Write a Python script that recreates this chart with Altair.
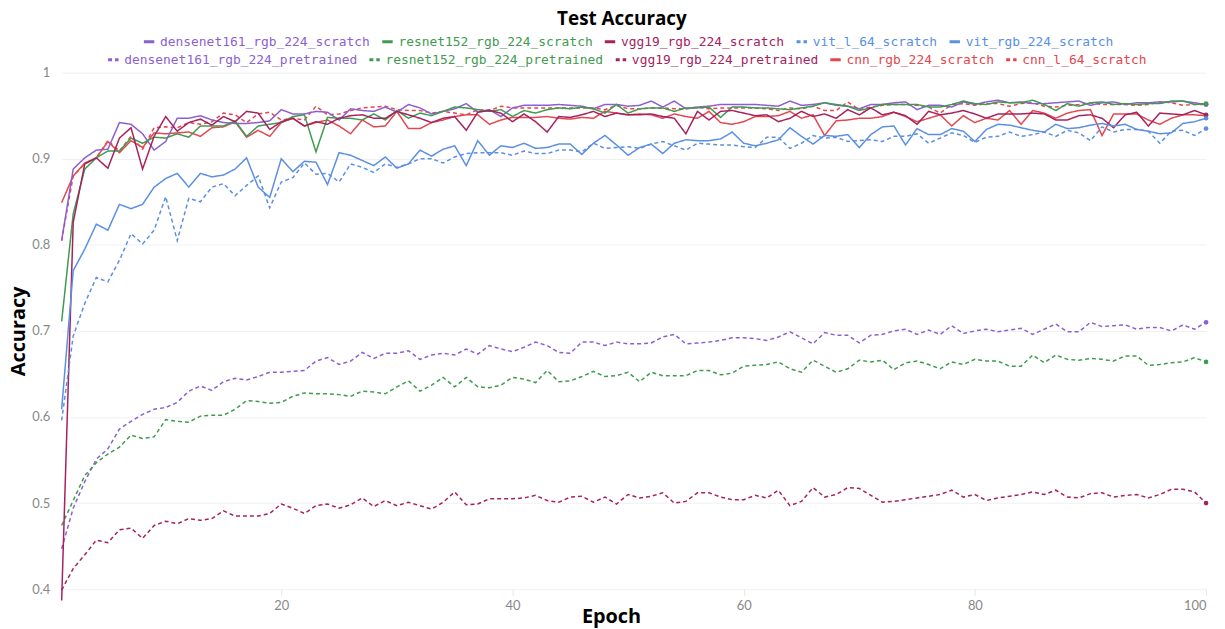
import altair as alt
import pandas as pd

epochs = list(range(1, 101))

row1_series = ["densenet161_rgb_224_scratch", "resnet152_rgb_224_scratch", "vgg19_rgb_224_scratch",
               "vit_l_64_scratch", "vit_rgb_224_scratch"]
row2_series = ["densenet161_rgb_224_pretrained", "resnet152_rgb_224_pretrained", "vgg19_rgb_224_pretrained",
               "cnn_rgb_224_scratch", "cnn_l_64_scratch"]

densenet_pt = [
    0.447, 0.494, 0.525, 0.551, 0.563, 0.586, 0.595, 0.603, 0.609, 0.611, 0.617, 0.630, 0.636, 0.631, 0.641, 0.645, 0.643, 0.647,
    0.652, 0.652, 0.653, 0.654, 0.665, 0.669, 0.661, 0.665, 0.675, 0.668, 0.674, 0.674, 0.677, 0.667, 0.672, 0.674, 0.672, 0.679, 0.673, 0.683, 0.679, 0.676, 0.681, 0.687, 0.683, 0.675, 0.674,
    0.687, 0.687, 0.683, 0.687, 0.685, 0.685, 0.686, 0.693, 0.696, 0.685, 0.686, 0.687, 0.689, 0.692, 0.692, 0.691, 0.689, 0.693, 0.699, 0.692, 0.685, 0.698, 0.695, 0.695, 0.686, 0.695, 0.696, 0.700,
    0.702, 0.696, 0.701, 0.696, 0.706, 0.697, 0.700, 0.702, 0.699, 0.701, 0.703, 0.696, 0.702, 0.708, 0.699, 0.699, 0.710, 0.705, 0.706, 0.707, 0.702, 0.704, 0.704, 0.700, 0.707, 0.702, 0.710,
]
resnet_pt = [
    0.474, 0.503, 0.532, 0.547, 0.557, 0.565, 0.579, 0.575, 0.577, 0.597, 0.595, 0.594, 0.601, 0.602, 0.602, 0.609, 0.619, 0.618,
    0.616, 0.617, 0.624, 0.628, 0.627, 0.627, 0.626, 0.624, 0.630, 0.629, 0.627, 0.635, 0.642, 0.630, 0.637, 0.646, 0.635, 0.646, 0.635, 0.634, 0.637, 0.646, 0.644, 0.640, 0.654, 0.641, 0.642,
    0.647, 0.653, 0.647, 0.648, 0.652, 0.641, 0.652, 0.648, 0.648, 0.648, 0.654, 0.654, 0.649, 0.651, 0.659, 0.660, 0.661, 0.664, 0.656, 0.652, 0.666, 0.659, 0.652, 0.656, 0.666, 0.664, 0.666, 0.655,
    0.663, 0.665, 0.661, 0.656, 0.664, 0.661, 0.667, 0.665, 0.665, 0.659, 0.659, 0.672, 0.663, 0.672, 0.667, 0.666, 0.668, 0.667, 0.665, 0.671, 0.671, 0.660, 0.661, 0.663, 0.664, 0.669, 0.664,
]
vgg_pt = [
    0.399, 0.424, 0.440, 0.457, 0.454, 0.469, 0.471, 0.459, 0.474, 0.479, 0.476, 0.482, 0.480, 0.482, 0.491, 0.485, 0.485, 0.485,
    0.488, 0.499, 0.494, 0.488, 0.497, 0.499, 0.494, 0.498, 0.506, 0.496, 0.503, 0.497, 0.501, 0.497, 0.493, 0.501, 0.513, 0.498, 0.499, 0.505, 0.505, 0.505, 0.506, 0.509, 0.503, 0.501, 0.507,
    0.508, 0.501, 0.507, 0.499, 0.510, 0.506, 0.508, 0.512, 0.500, 0.502, 0.512, 0.512, 0.507, 0.504, 0.504, 0.509, 0.506, 0.515, 0.497, 0.502, 0.518, 0.507, 0.510, 0.518, 0.517, 0.509, 0.501, 0.502,
    0.504, 0.506, 0.508, 0.510, 0.515, 0.507, 0.510, 0.503, 0.506, 0.508, 0.510, 0.513, 0.510, 0.515, 0.507, 0.506, 0.511, 0.512, 0.507, 0.509, 0.510, 0.506, 0.510, 0.516, 0.516, 0.513, 0.500,
]
vit_rgb = [
    0.609, 0.770, 0.795, 0.824, 0.817, 0.847, 0.842, 0.847, 0.867, 0.877, 0.883, 0.867, 0.883, 0.879, 0.881, 0.888, 0.901,
    0.867, 0.855, 0.900, 0.885, 0.897, 0.896, 0.870, 0.907, 0.904, 0.898, 0.892, 0.902, 0.889, 0.894, 0.910, 0.903, 0.911, 0.915, 0.892, 0.921, 0.904, 0.915, 0.913, 0.918, 0.912, 0.913, 0.917, 0.917,
    0.905, 0.918, 0.927, 0.916, 0.904, 0.913, 0.917, 0.906, 0.918, 0.922, 0.921, 0.921, 0.923, 0.931, 0.918, 0.915, 0.918, 0.922, 0.936, 0.926, 0.917, 0.927, 0.926, 0.928, 0.913, 0.928, 0.937, 0.938,
    0.916, 0.935, 0.928, 0.928, 0.935, 0.932, 0.920, 0.934, 0.940, 0.939, 0.936, 0.933, 0.931, 0.940, 0.935, 0.936, 0.939, 0.941, 0.938, 0.940, 0.934, 0.932, 0.929, 0.930, 0.941, 0.943, 0.947,
]
vit_l64 = [
    0.596, 0.694, 0.732, 0.762, 0.757, 0.782, 0.813, 0.801, 0.817, 0.856, 0.805, 0.854, 0.850, 0.867, 0.871, 0.857, 0.869, 0.880,
    0.843, 0.873, 0.878, 0.895, 0.882, 0.883, 0.873, 0.894, 0.890, 0.884, 0.894, 0.890, 0.894, 0.900, 0.900, 0.895, 0.902, 0.906, 0.907, 0.907, 0.907, 0.904, 0.909, 0.906, 0.906, 0.910, 0.910,
    0.908, 0.918, 0.912, 0.913, 0.914, 0.912, 0.917, 0.920, 0.915, 0.910, 0.918, 0.917, 0.916, 0.916, 0.914, 0.913, 0.925, 0.925, 0.912, 0.918, 0.927, 0.924, 0.925, 0.920, 0.921, 0.922, 0.920, 0.926,
    0.926, 0.929, 0.918, 0.924, 0.930, 0.927, 0.919, 0.925, 0.926, 0.931, 0.926, 0.928, 0.931, 0.926, 0.933, 0.930, 0.921, 0.937, 0.931, 0.934, 0.934, 0.932, 0.918, 0.932, 0.933, 0.927, 0.935,
]
densenet_sc = [
    0.805, 0.888, 0.901, 0.910, 0.911, 0.942, 0.940, 0.929, 0.910, 0.920, 0.947, 0.947, 0.950, 0.945, 0.942, 0.941, 0.941, 0.942,
    0.944, 0.957, 0.952, 0.952, 0.955, 0.954, 0.945, 0.958, 0.956, 0.955, 0.960, 0.954, 0.963, 0.959, 0.952, 0.955, 0.958, 0.964, 0.954, 0.957, 0.949, 0.959, 0.962, 0.962, 0.962, 0.963, 0.962,
    0.961, 0.958, 0.963, 0.963, 0.961, 0.962, 0.967, 0.960, 0.967, 0.958, 0.960, 0.961, 0.963, 0.963, 0.963, 0.963, 0.962, 0.961, 0.967, 0.962, 0.963, 0.965, 0.962, 0.961, 0.958, 0.963, 0.963, 0.965,
    0.966, 0.957, 0.962, 0.962, 0.960, 0.966, 0.963, 0.966, 0.968, 0.965, 0.966, 0.964, 0.964, 0.965, 0.966, 0.967, 0.962, 0.965, 0.966, 0.963, 0.965, 0.965, 0.966, 0.966, 0.967, 0.965, 0.963,
]
resnet_sc = [
    0.711, 0.836, 0.888, 0.901, 0.909, 0.909, 0.924, 0.918, 0.925, 0.924, 0.929, 0.925, 0.938, 0.938, 0.938, 0.944, 0.926, 0.938,
    0.940, 0.942, 0.949, 0.951, 0.908, 0.948, 0.947, 0.947, 0.945, 0.952, 0.945, 0.956, 0.947, 0.953, 0.950, 0.955, 0.960, 0.959, 0.957, 0.955, 0.957, 0.949, 0.956, 0.953, 0.957, 0.959, 0.958,
    0.960, 0.958, 0.953, 0.963, 0.953, 0.958, 0.959, 0.959, 0.955, 0.959, 0.959, 0.960, 0.948, 0.960, 0.960, 0.959, 0.959, 0.958, 0.957, 0.959, 0.961, 0.965, 0.963, 0.961, 0.956, 0.959, 0.963, 0.963,
    0.963, 0.963, 0.960, 0.960, 0.963, 0.967, 0.964, 0.963, 0.966, 0.965, 0.965, 0.968, 0.963, 0.956, 0.964, 0.961, 0.965, 0.966, 0.963, 0.964, 0.963, 0.964, 0.964, 0.967, 0.967, 0.963, 0.964,
]
vgg_sc = [
    0.387, 0.826, 0.894, 0.901, 0.889, 0.924, 0.936, 0.888, 0.926, 0.949, 0.932, 0.942, 0.946, 0.939, 0.949, 0.943, 0.955, 0.953,
    0.934, 0.943, 0.947, 0.938, 0.943, 0.940, 0.947, 0.950, 0.951, 0.947, 0.947, 0.955, 0.951, 0.947, 0.942, 0.947, 0.949, 0.933, 0.954, 0.956, 0.953, 0.943, 0.952, 0.943, 0.931, 0.949, 0.948,
    0.951, 0.955, 0.949, 0.953, 0.951, 0.951, 0.952, 0.949, 0.947, 0.929, 0.955, 0.945, 0.955, 0.956, 0.953, 0.950, 0.951, 0.943, 0.947, 0.955, 0.949, 0.952, 0.947, 0.957, 0.951, 0.959, 0.951, 0.954,
    0.950, 0.940, 0.955, 0.951, 0.953, 0.956, 0.952, 0.947, 0.952, 0.952, 0.952, 0.953, 0.952, 0.945, 0.945, 0.950, 0.951, 0.947, 0.936, 0.951, 0.954, 0.938, 0.953, 0.952, 0.951, 0.956, 0.951,
]
cnn_rgb = [
    0.849, 0.880, 0.895, 0.901, 0.920, 0.907, 0.921, 0.913, 0.930, 0.929, 0.930, 0.931, 0.926, 0.936, 0.937, 0.943, 0.925, 0.933,
    0.926, 0.942, 0.947, 0.938, 0.942, 0.945, 0.938, 0.929, 0.945, 0.937, 0.938, 0.955, 0.935, 0.935, 0.942, 0.945, 0.949, 0.951, 0.951, 0.940, 0.945, 0.948, 0.948, 0.948, 0.949, 0.947, 0.946,
    0.948, 0.947, 0.955, 0.953, 0.951, 0.952, 0.951, 0.947, 0.952, 0.949, 0.947, 0.955, 0.942, 0.940, 0.943, 0.949, 0.949, 0.950, 0.955, 0.947, 0.951, 0.927, 0.944, 0.945, 0.947, 0.947, 0.949, 0.954,
    0.949, 0.943, 0.947, 0.951, 0.938, 0.950, 0.942, 0.947, 0.945, 0.956, 0.940, 0.956, 0.953, 0.947, 0.953, 0.956, 0.957, 0.927, 0.952, 0.952, 0.952, 0.945, 0.940, 0.947, 0.951, 0.951, 0.950,
]
cnn_l64 = [
    0.805, 0.880, 0.894, 0.901, 0.921, 0.909, 0.926, 0.911, 0.936, 0.937, 0.936, 0.942, 0.940, 0.943, 0.953, 0.951, 0.942, 0.952,
    0.954, 0.945, 0.947, 0.945, 0.961, 0.951, 0.952, 0.956, 0.959, 0.960, 0.961, 0.957, 0.956, 0.956, 0.953, 0.955, 0.953, 0.951, 0.957, 0.956, 0.961, 0.959, 0.959, 0.959, 0.959, 0.959, 0.959,
    0.959, 0.959, 0.957, 0.962, 0.958, 0.958, 0.959, 0.959, 0.958, 0.958, 0.960, 0.958, 0.959, 0.959, 0.959, 0.959, 0.958, 0.956, 0.959, 0.958, 0.961, 0.956, 0.956, 0.966, 0.957, 0.960, 0.962, 0.963,
    0.963, 0.962, 0.960, 0.953, 0.963, 0.964, 0.962, 0.964, 0.964, 0.961, 0.964, 0.965, 0.961, 0.960, 0.962, 0.963, 0.965, 0.963, 0.963, 0.963, 0.962, 0.963, 0.966, 0.965, 0.962, 0.963, 0.963,
]

values = {
    "densenet161_rgb_224_scratch": densenet_sc,
    "resnet152_rgb_224_scratch": resnet_sc,
    "vgg19_rgb_224_scratch": vgg_sc,
    "vit_l_64_scratch": vit_l64,
    "vit_rgb_224_scratch": vit_rgb,
    "densenet161_rgb_224_pretrained": densenet_pt,
    "resnet152_rgb_224_pretrained": resnet_pt,
    "vgg19_rgb_224_pretrained": vgg_pt,
    "cnn_rgb_224_scratch": cnn_rgb,
    "cnn_l_64_scratch": cnn_l64,
}

PURPLE, GREEN, CRIMSON, BLUE, RED = "#8c5fd1", "#3f9b4f", "#a6225d", "#5b8fe3", "#e4474e"
row1_colors = [PURPLE, GREEN, CRIMSON, BLUE, BLUE]
row2_colors = [PURPLE, GREEN, CRIMSON, RED, RED]
SOLID, DASH = [1, 0], [4, 3]
row1_dashes = [SOLID, SOLID, SOLID, DASH, SOLID]
row2_dashes = [DASH, DASH, DASH, SOLID, DASH]


def make_df(names):
    rows = []
    for name in names:
        for e, v in zip(epochs, values[name]):
            rows.append({"series": name, "epoch": e, "acc": v})
    return pd.DataFrame(rows)


def label_expr(names, cols):
    s = ""
    for n, c in zip(names, cols):
        s += f"datum.value == '{n}' ? '{c}' : "
    return s + "'#333'"


def make_legend(names, cols, lx, ly):
    return alt.Legend(
        title=None, orient="none", legendX=lx, legendY=ly, direction="horizontal",
        symbolType="stroke", symbolStrokeWidth=3, symbolSize=110, labelFont="DejaVu Sans Mono",
        labelFontSize=13, labelColor={"expr": label_expr(names, cols)}, columnPadding=5,
        labelOffset=4, labelLimit=400,
    )


x_enc = alt.X("epoch:Q", scale=alt.Scale(domain=[1, 100], nice=False, zero=False),
              axis=alt.Axis(values=[20, 40, 60, 80, 100], title="Epoch", grid=False, domain=False,
                            ticks=True, tickSize=6, tickColor="#e6e6e6", labelColor="#888888",
                            labelFont="Lato", labelFontSize=13, labelPadding=4,
                            titleFont="Open Sans", titleFontSize=20, titleFontWeight="bold",
                            titleColor="#000000", titleX=553, titleY=34, titleBaseline="alphabetic"))
y_enc = alt.Y("acc:Q", scale=alt.Scale(domain=[0.4, 1.0], nice=False, zero=False),
              axis=alt.Axis(values=[0.4, 0.5, 0.6, 0.7, 0.8, 0.9, 1.0], format=".1~f", title="Accuracy",
                            grid=True, gridColor="#f0f0f0", domain=False, ticks=False,
                            labelColor="#888888", labelFont="Lato", labelFontSize=13, labelPadding=12,
                            titleFont="Open Sans", titleFontSize=20, titleFontWeight="bold",
                            titleColor="#000000", titlePadding=3))


def make_group(names, cols, dashes, lx, ly):
    df = make_df(names)
    legend = make_legend(names, cols, lx, ly)
    cscale = alt.Scale(domain=names, range=cols)
    dscale = alt.Scale(domain=names, range=dashes)
    lines = alt.Chart(df).mark_line(strokeWidth=1.5, clip=False).encode(
        x=x_enc, y=y_enc,
        color=alt.Color("series:N", scale=cscale, legend=legend),
        strokeDash=alt.StrokeDash("series:N", scale=dscale, legend=legend),
        order=alt.Order("epoch:Q"),
    )
    points = alt.Chart(df).mark_point(filled=True, size=22, opacity=1).encode(
        x=x_enc, y=y_enc,
        color=alt.Color("series:N", scale=cscale, legend=None),
    ).transform_filter("datum.epoch == 100")
    return alt.layer(lines, points)


group2 = make_group(row2_series, row2_colors, row2_dashes, 45, -20)
group1 = make_group(row1_series, row1_colors, row1_dashes, 81, -38)

chart = alt.layer(group2, group1).resolve_scale(color="independent", strokeDash="independent").properties(
    width=1152, height=520,
    title=alt.TitleParams("Test Accuracy", font="Open Sans", fontSize=19, fontWeight="bold",
                          color="#000000", anchor="middle", dx=-12, offset=6),
    autosize=alt.AutoSizeParams(type="none"),
    padding={"left": 54, "top": 63, "right": 11, "bottom": 38},
).configure_view(stroke=None)

chart.save("out.html", embed_options={"renderer": "svg", "actions": False})
